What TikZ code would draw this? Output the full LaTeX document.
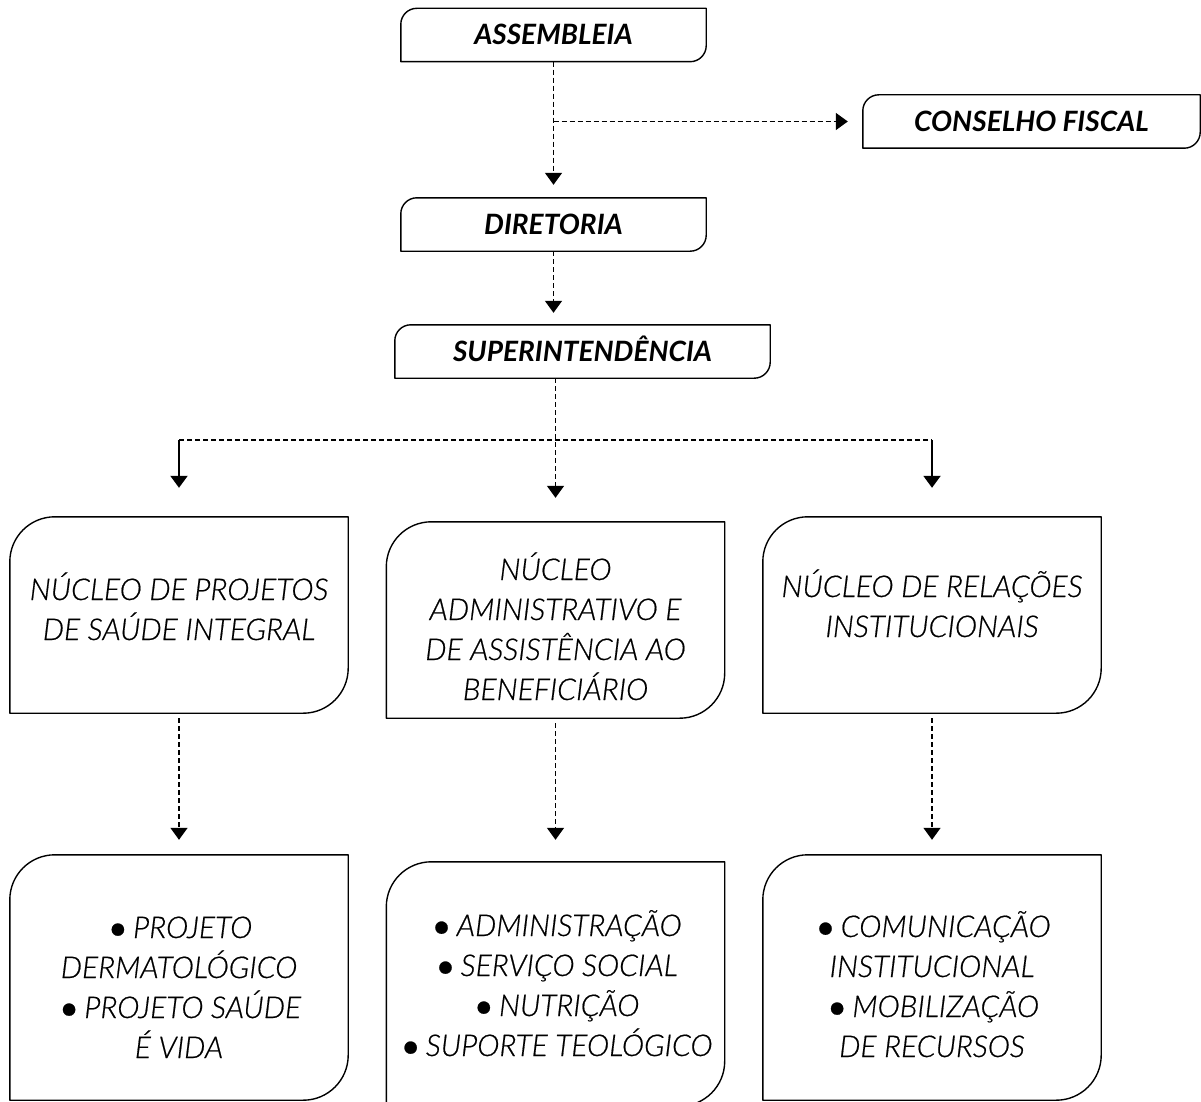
\documentclass[tikz,border=0pt]{standalone}
\usepackage{fontspec}
\setmainfont{Lato}
\newfontfamily\headfont{Lato Bold Italic}
\newfontfamily\bodyfont{Lato Light Italic}[FakeBold=0.6]
\newcommand\dotmark{\raisebox{-0.14em}{\scalebox{1.4}{•}}\hspace{3pt}}
\usetikzlibrary{arrows.meta}
\begin{document}
\begin{tikzpicture}[x=1pt,y=-1pt,line join=round,>={Triangle[width=17pt,length=12pt]},
		head/.style={minimum width=#1,minimum height=53pt,inner sep=0pt,text height=20pt,text depth=0pt,font=\headfont\fontsize{28}{32}\selectfont},
		unit/.style={minimum width=338pt,minimum height=196pt,inner sep=0pt,align=center,text height=#1,text depth=0pt,font=\bodyfont\fontsize{30}{40}\selectfont},
		outline/.style={line width=1.4pt},
		dashline/.style={line width=1.5pt,dash pattern=on 5pt off 3pt},
		solidline/.style={line width=2pt}]
	\useasboundingbox (0,0) rectangle (1201,1102);
	% top of the chart
	\node[head=305pt] (asm) at (553.5,35) {ASSEMBLEIA};
	\node[head=337pt] (cf) at (1031.5,121.5) {CONSELHO FISCAL};
	\node[head=305pt] (dir) at (553.5,224.5) {DIRETORIA};
	\node[head=375pt] (sup) at (582.5,351.5) {SUPERINTENDÊNCIA};
	% the three nuclei
	\node[unit=50pt] (nps) at (179,615) {NÚCLEO DE PROJETOS\\DE SAÚDE INTEGRAL};
	\node[unit=160pt] (nab) at (555.5,620) {NÚCLEO\\ADMINISTRATIVO E\\DE ASSISTÊNCIA AO\\BENEFICIÁRIO};
	\node[unit=44pt] (nri) at (932,615) {NÚCLEO DE RELAÇÕES\\INSTITUCIONAIS};
	\node[unit=161pt,minimum height=245pt] (pps) at (179,977.5) {\dotmark PROJETO\\DERMATOLÓGICO\\\dotmark PROJETO SAÚDE\\É VIDA};
	\node[unit=144pt,minimum height=244pt] (pab) at (555.5,984) {\dotmark ADMINISTRAÇÃO\\\dotmark SERVIÇO SOCIAL\\\dotmark NUTRIÇÃO\\\dotmark SUPORTE TEOLÓGICO};
	\node[unit=159pt,minimum height=245pt] (pri) at (932,977.5) {\dotmark COMUNICAÇÃO\\INSTITUCIONAL\\\dotmark MOBILIZAÇÃO\\DE RECURSOS};
	% box outlines: round corners top left and bottom right
	\foreach \n/\r in {asm/16,cf/16,dir/16,sup/16,nps/45,nab/45,nri/45,pps/45,pab/45,pri/45}
		\draw[outline] (\n.south west) -- ([yshift=-\r pt]\n.north west) arc[start angle=180,end angle=90,radius=\r pt] -- (\n.north east) -- ([yshift=\r pt]\n.south east) arc[start angle=0,end angle=-90,radius=\r pt] -- cycle;
	% connectors
	\coordinate (fork) at (555,440);
	\draw[dashline,->,shorten >=13pt] (asm.south) -- (asm.south |- dir.north);
	\draw[dashline,->,shorten >=15pt] (asm.south |- cf.west) -- (cf.west);
	\draw[dashline,->,shorten >=12pt] (dir.south) -- (dir.south |- sup.north);
	\draw[dashline,->,shorten >=24pt] (nab.north |- sup.south) -- (nab.north);
	\draw[dashline] (nps.north |- fork) -- (nri.north |- fork);
	\draw[solidline,->,shorten >=29pt] (nps.north |- fork) -- (nps.north);
	\draw[solidline,->,shorten >=29pt] (nri.north |- fork) -- (nri.north);
	\draw[dashline,->,shorten <=5pt,shorten >=15pt] (nps) -- (pps);
	\draw[dashline,->,shorten <=5pt,shorten >=22pt] (nab) -- (pab);
	\draw[dashline,->,shorten <=5pt,shorten >=15pt] (nri) -- (pri);
\end{tikzpicture}
\end{document}
